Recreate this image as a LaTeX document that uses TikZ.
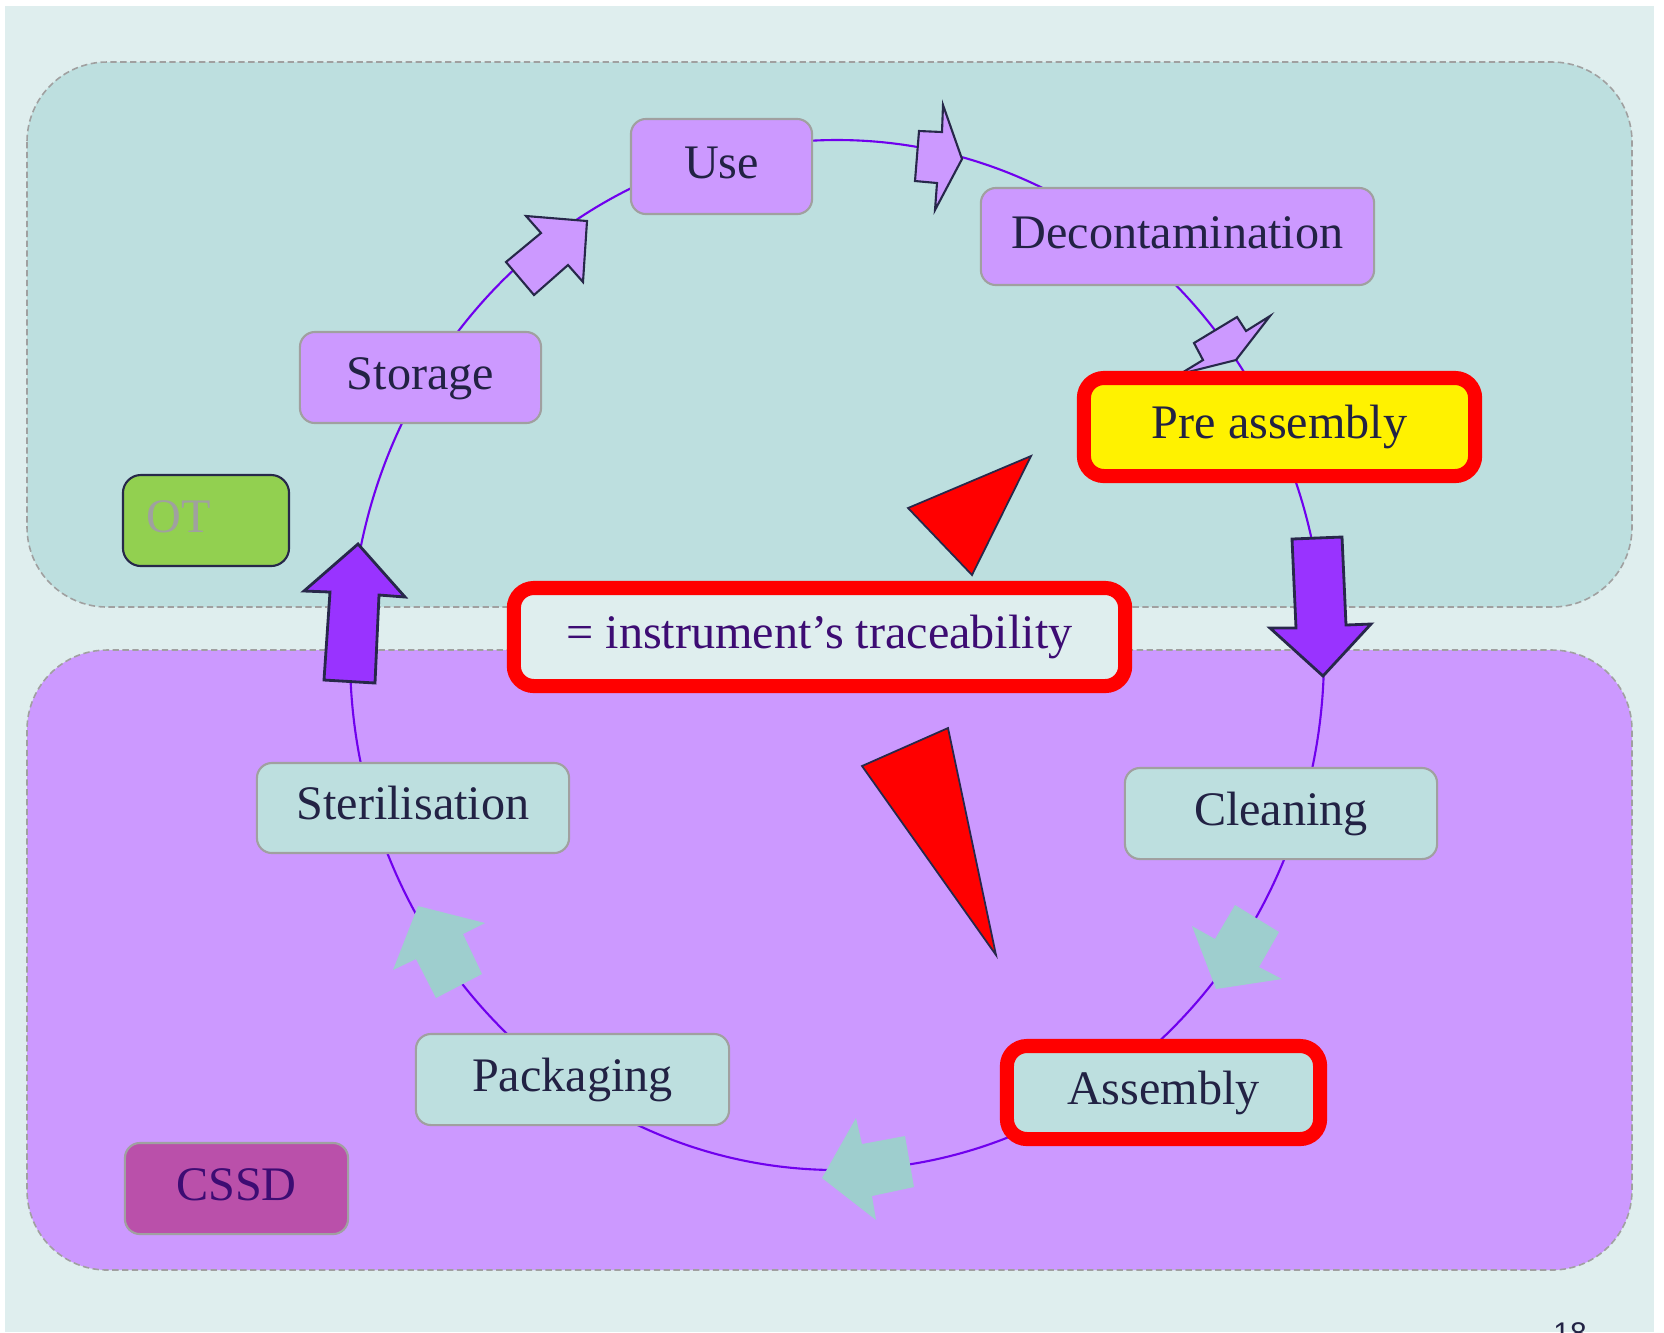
\documentclass[tikz,border=0pt]{standalone}
\usepackage{fontspec}
\setmainfont{Liberation Serif}
\setsansfont{Liberation Sans}
\definecolor{pagebg}{HTML}{DFEEEE}
\definecolor{otbg}{HTML}{BDDFDF}
\definecolor{lav}{HTML}{CC99FF}
\definecolor{boxgray}{HTML}{A0A0A0}
\definecolor{bigviolet}{HTML}{9933FF}
\definecolor{edgenavy}{HTML}{27284A}
\definecolor{tealarrow}{HTML}{9ECECE}
\definecolor{ringline}{HTML}{7000EE}
\definecolor{otgreen}{HTML}{92D050}
\definecolor{cssdpink}{HTML}{BA50AA}
\definecolor{inkpurple}{HTML}{3D0C73}
\definecolor{ink}{HTML}{222244}
\tikzset{
	zone/.style={draw=boxgray, dash pattern=on 1.8pt off 1pt, line width=0.45pt, rounded corners=0.8cm},
	stage/.style={rectangle, rounded corners=0.15cm, draw=boxgray, line width=0.6pt, text=ink,
		font=\fontsize{13.7}{16}\selectfont, inner sep=0pt, text height=0.68em, text depth=0pt},
	otstage/.style={stage, fill=lav},
	cssdstage/.style={stage, fill=otbg},
	marked/.style={stage, draw=red, line width=4pt, rounded corners=0.2cm},
	ring/.style={draw=ringline, line width=0.6pt},
	bigarrow/.style={fill=bigviolet, draw=edgenavy, line width=0.8pt, line join=miter},
	smallarrow/.style={fill=lav, draw=edgenavy, line width=0.6pt},
	flatarrow/.style={fill=tealarrow},
	pointer/.style={fill=red, draw=edgenavy, line width=0.5pt}
}
\begin{document}
\begin{tikzpicture}[x=0.01cm, y=-0.01cm]
	\useasboundingbox (0,0) rectangle (1664,1332);
	\fill[white] (0,0) rectangle (1664,1332);
	\fill[pagebg] (5,6) rectangle (1654,1332);
	\draw[zone, fill=otbg] (27,62) rectangle (1632,607);
	\draw[zone, fill=lav] (27,650) rectangle (1632,1270);
	\draw[ring] (837,655) ellipse [x radius=487, y radius=515];
	\draw[smallarrow] (526,216) -- (587,221) -- (583,282) -- (568,265) -- (534,295) -- (506,262) -- (541,233) -- cycle;
	\draw[smallarrow] (943,105) -- (962,159) -- (935,210) -- (937,183) -- (915,181) -- (919,131) -- (942,132) -- cycle;
	\draw[smallarrow] (1270,316) -- (1236,360) -- (1180,374) -- (1203,360) -- (1194,343) -- (1237,317) -- (1246,331) -- cycle;
	\draw[bigarrow] (1292,539) -- (1342,537) -- (1346,625) -- (1371,624) -- (1323,676) -- (1270,628) -- (1296,628) -- cycle;
	\draw[bigarrow] (358,544) -- (405,597) -- (379,595) -- (375,683) -- (324,680) -- (330,592) -- (304,591) -- cycle;
	\fill[flatarrow] (1235,905) -- (1279,932) -- (1259,967) -- (1282,979) -- (1216,989) -- (1192,926) -- (1215,939) -- cycle;
	\fill[flatarrow] (856,1118) -- (862,1144) -- (905,1136) -- (914,1187) -- (872,1196) -- (876,1220) -- (822,1178) -- cycle;
	\fill[flatarrow] (418,906) -- (485,923) -- (463,934) -- (482,974) -- (436,998) -- (416,959) -- (393,970) -- cycle;
	\draw[pointer] (908,508) -- (1031,456) -- (972,575) -- cycle;
	\draw[pointer] (862,766) -- (948,728) -- (996,955) -- cycle;
	\node[otstage, minimum width=1.81cm, minimum height=0.95cm] (use) at (721.5,166.5) {Use};
	\node[otstage, minimum width=3.93cm, minimum height=0.97cm] (decon) at (1177.5,236.5) {Decontamination};
	\node[marked, fill=yellow, minimum width=3.91cm, minimum height=0.98cm] (preasm) at (1279.5,427) {Pre assembly};
	\node[otstage, minimum width=2.41cm, minimum height=0.91cm] (storage) at (420.5,377.5) {Storage};
	\node[cssdstage, minimum width=3.12cm, minimum height=0.91cm] (clean) at (1281,813.5) {Cleaning};
	\node[marked, fill=otbg, minimum width=3.13cm, minimum height=0.93cm] (asm) at (1163.5,1092.5) {Assembly};
	\node[cssdstage, minimum width=3.13cm, minimum height=0.91cm] (pack) at (572.5,1079.5) {Packaging};
	\node[cssdstage, minimum width=3.12cm, minimum height=0.90cm] (steril) at (413,808) {Sterilisation};
	\node[marked, fill=pagebg, text=inkpurple, minimum width=6.11cm, minimum height=0.98cm] (trace) at (819.5,637) {= instrument’s traceability};
	\node[stage, fill=otgreen, draw=edgenavy, text=boxgray, rounded corners=0.18cm, align=left,
		text width=1.18cm, inner xsep=0.24cm, minimum height=0.91cm] (ot) at (206,520.5) {OT};
	\node[stage, fill=cssdpink, text=inkpurple, minimum width=2.23cm, minimum height=0.91cm] (cssd) at (236.5,1188.5) {CSSD};
	\node[anchor=north, inner sep=0pt, text=ink, font=\sffamily\fontsize{8.5}{10}\selectfont] (pagenum) at (1570,1322) {18};
\end{tikzpicture}
\end{document}
